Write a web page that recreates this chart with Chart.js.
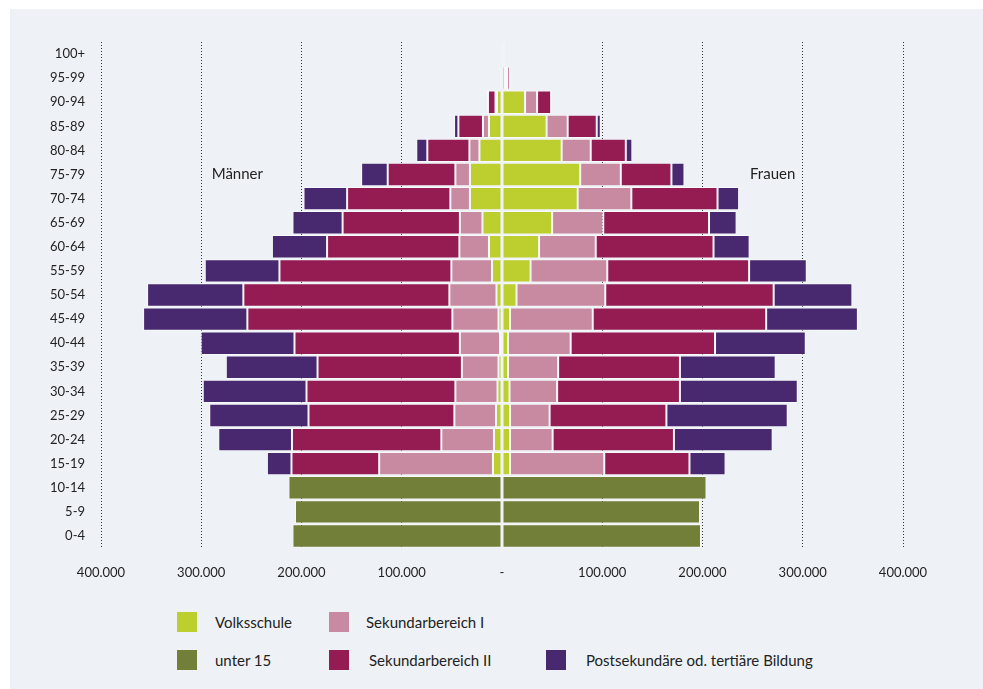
<!DOCTYPE html>
<html>
<head>
<meta charset="utf-8">
<script src="https://cdn.jsdelivr.net/npm/chart.js@4"></script>
<style>
  body { margin: 0; background: #ffffff; font-family: Lato, sans-serif; }
  #panel { position: absolute; left: 10px; top: 9px; right: 0; bottom: 0; background: #eef2f6; }
  #wrap { position: absolute; left: 0; top: 0; width: 983px; height: 600px; }
  .lg { position: absolute; display: flex; align-items: center; font-size: 15px; color: #222; }
  .lg span.box { display: inline-block; width: 20px; height: 20px; }
</style>
</head>
<body>
<div id="panel"></div>
<div id="wrap"><canvas id="pyramid"></canvas></div>
<div id="legend"></div>
<script>
// age groups, top row first
const ageGroups = ['100+', '95-99', '90-94', '85-89', '80-84', '75-79', '70-74', '65-69', '60-64', '55-59',
    '50-54', '45-49', '40-44', '35-39', '30-34', '25-29', '20-24', '15-19', '10-14', '5-9', '0-4'];

const seriesNames = ['unter 15', 'Volksschule', 'Sekundarbereich I', 'Sekundarbereich II', 'Postsekundäre od. tertiäre Bildung'];
const seriesColors = ['#727f38', '#bdcf2f', '#c88aa0', '#951c53', '#48296f'];

// Männer (persons)
const menUnter15 = [null, null, null, null, null, null, null, null, null, null, null, null, null, null, null, null, null, null, 213000, 206500, 209000];
const menVolks = [300, 1000, 5000, 13000, 22500, 32000, 32000, 19500, 13000, 10000, 5500, 3500, 2000, 3500, 4500, 6000, 8000, 9000, null, null, null];
const menSek1 = [200, 300, 1500, 6000, 10000, 14500, 19500, 22500, 29500, 40500, 47000, 46000, 40000, 36500, 42000, 41500, 52500, 113500, null, null, null];
const menSek2 = [500, 1000, 7500, 24500, 42000, 67500, 103000, 117000, 132000, 171500, 205500, 204500, 165000, 144000, 148500, 145500, 149000, 87500, null, null, null];
const menPost = [400, 300, 1200, 4300, 11000, 26500, 43500, 50000, 55000, 74500, 96000, 104000, 93500, 91500, 103500, 99000, 73500, 24500, null, null, null];

// Frauen (persons)
const womenUnter15 = [null, null, null, null, null, null, null, null, null, null, null, null, null, null, null, null, null, null, 204000, 197500, 198500];
const womenVolks = [1200, 3000, 23000, 44500, 59500, 78000, 75500, 50000, 37000, 28500, 14500, 8000, 6000, 6000, 7500, 8000, 8000, 8000, null, null, null];
const womenSek1 = [600, 2000, 12000, 21000, 29000, 40500, 53500, 51000, 56500, 76500, 88500, 82500, 62500, 50000, 47500, 39500, 42500, 94000, null, null, null];
const womenSek2 = [800, 2500, 14000, 29000, 35000, 50500, 86000, 105500, 117500, 141500, 168000, 173000, 144000, 121500, 122500, 116500, 121000, 85000, null, null, null];
const womenPost = [500, 700, 900, 4000, 6500, 13000, 21500, 27500, 36000, 57500, 78500, 91500, 90500, 95500, 117500, 121000, 98500, 36000, null, null, null];

const xTickLabels = ['400.000', '300.000', '200.000', '100.000', '-', '100.000', '200.000', '300.000', '400.000'];

const menSeries = [menUnter15, menVolks, menSek1, menSek2, menPost];
const womenSeries = [womenUnter15, womenVolks, womenSek1, womenSek2, womenPost];

const datasets = [];
menSeries.forEach((arr, i) => {
    datasets.push({
        label: seriesNames[i] + ' (Männer)',
        data: arr.map(v => v === null ? null : -v),
        backgroundColor: seriesColors[i],
        stack: 'pop'
    });
});
womenSeries.forEach((arr, i) => {
    datasets.push({
        label: seriesNames[i] + ' (Frauen)',
        data: arr,
        backgroundColor: seriesColors[i],
        stack: 'pop'
    });
});

// "Männer" / "Frauen" labels inside the plot
const sideLabels = {
    id: 'sideLabels',
    afterDatasetsDraw(chart) {
        const { ctx, scales } = chart;
        const y = scales.y.getPixelForValue(ageGroups.indexOf('75-79'));
        ctx.save();
        ctx.font = '15px Lato';
        ctx.fillStyle = '#222';
        ctx.textAlign = 'center';
        ctx.textBaseline = 'middle';
        ctx.fillText('Männer', scales.x.getPixelForValue(-264000), y);
        ctx.fillText('Frauen', scales.x.getPixelForValue(270000), y);
        ctx.restore();
    }
};

Chart.defaults.font.family = 'Lato';

new Chart(document.getElementById('pyramid').getContext('2d'), {
    type: 'bar',
    data: { labels: ageGroups, datasets: datasets },
    options: {
        indexAxis: 'y',
        responsive: true,
        maintainAspectRatio: false,
        animation: false,
        layout: { padding: { top: 42, left: 0, right: 80, bottom: 12 } },
        datasets: {
            bar: {
                borderColor: 'rgba(255,255,255,0.55)',
                borderWidth: 1,
                borderSkipped: false,
                barPercentage: 0.97,
                categoryPercentage: 1
            }
        },
        plugins: {
            legend: { display: false },
            tooltip: { enabled: false }
        },
        scales: {
            x: {
                stacked: true,
                min: -400000,
                max: 400000,
                // dotted vertical grid lines
                border: { display: false, dash: [1, 2] },
                grid: {
                    drawTicks: false,
                    color: (c) => c.tick && c.tick.value === 0 ? 'rgba(0,0,0,0)' : '#333',
                    lineWidth: 1
                },
                ticks: {
                    stepSize: 100000,
                    padding: 17,
                    color: '#222',
                    font: { size: 13 },
                    maxRotation: 0,
                    callback: (value, index) => xTickLabels[index]
                },
                afterFit: (scale) => { scale.height = 40; }
            },
            y: {
                stacked: true,
                border: { display: false },
                grid: { display: false, drawTicks: false },
                ticks: { padding: 16, color: '#222', font: { size: 13 } },
                afterFit: (scale) => { scale.width = 101; }
            }
        }
    },
    plugins: [sideLabels]
});

// legend laid out in two rows like the original
const legendSlots = [
    { s: 1, x: 177, y: 612, gap: 18 },
    { s: 2, x: 329, y: 612, gap: 17 },
    { s: 0, x: 177, y: 650, gap: 18 },
    { s: 3, x: 329, y: 650, gap: 20 },
    { s: 4, x: 546, y: 650, gap: 20 }
];
const legend = document.getElementById('legend');
legendSlots.forEach(slot => {
    const el = document.createElement('div');
    el.className = 'lg';
    el.style.left = slot.x + 'px';
    el.style.top = slot.y + 'px';
    el.innerHTML = '<span class="box" style="background:' + seriesColors[slot.s] + '"></span>' +
        '<span style="margin-left:' + slot.gap + 'px">' + seriesNames[slot.s] + '</span>';
    legend.appendChild(el);
});
</script>
</body>
</html>
